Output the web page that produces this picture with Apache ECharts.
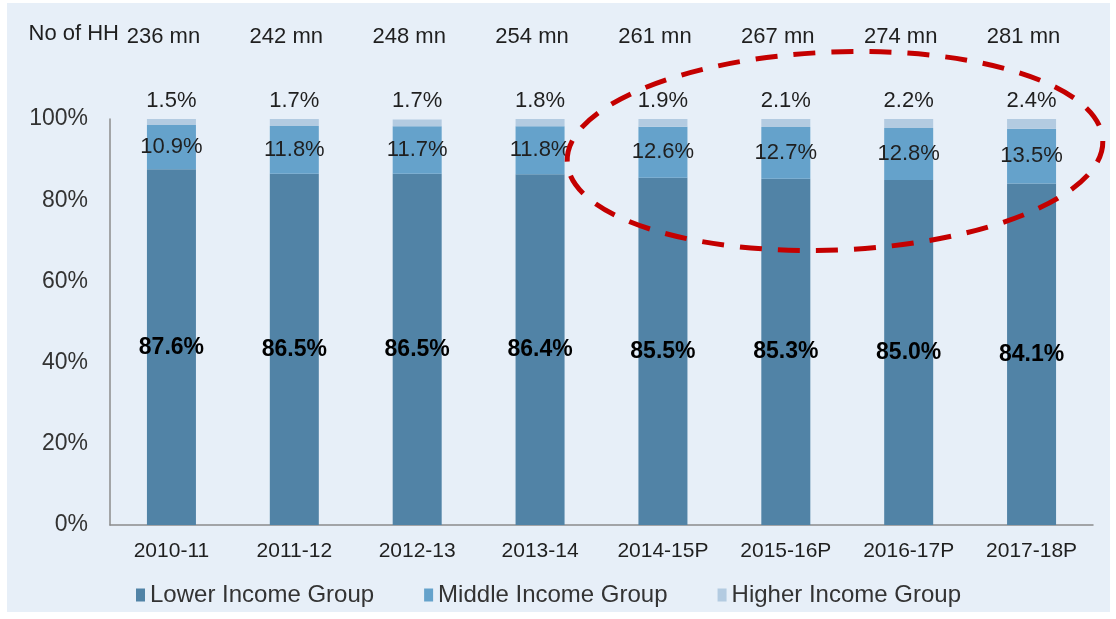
<!DOCTYPE html>
<html>
<head>
<meta charset="utf-8">
<script src="https://cdn.jsdelivr.net/npm/echarts@6/dist/echarts.min.js"></script>
<style>
  html, body { margin: 0; padding: 0; background: #fff; }
  #chart { width: 1116px; height: 619px; }
</style>
</head>
<body>
<div id="chart"></div>
<script>
// share of households by income group
const years = ['2010-11', '2011-12', '2012-13', '2013-14', '2014-15P', '2015-16P', '2016-17P', '2017-18P']
const households = ['236 mn', '242 mn', '248 mn', '254 mn', '261 mn', '267 mn', '274 mn', '281 mn']
const lowerIncome = [87.6, 86.5, 86.5, 86.4, 85.5, 85.3, 85.0, 84.1]
const middleIncome = [10.9, 11.8, 11.7, 11.8, 12.6, 12.7, 12.8, 13.5]
const higherIncome = [1.5, 1.7, 1.7, 1.8, 1.9, 2.1, 2.2, 2.4]

const font = 'Liberation Sans, Arial, sans-serif'
const textColor = '#1f1f1f'

const chart = echarts.init(document.getElementById('chart'))

const pct = p => p.value.toFixed(1) + '%'

chart.setOption({
  animation: false,
  backgroundColor: '#fff',
  textStyle: { fontFamily: font },
  grid: { left: 110, right: 23, top: 119, bottom: 94 },
  xAxis: [
    {
      type: 'category',
      data: years,
      axisLine: { lineStyle: { color: '#8c8c8c', width: 1.5 } },
      axisTick: { show: false },
      axisLabel: { interval: 0, color: textColor, fontSize: 21, margin: 16 }
    },
    {
      type: 'category',
      position: 'top',
      data: households,
      axisLine: { show: false },
      axisTick: { show: false },
      axisLabel: { interval: 0, color: textColor, fontSize: 22, margin: 71, padding: [0, 16, 0, 0] }
    }
  ],
  yAxis: {
    type: 'value',
    min: 0,
    max: 100,
    interval: 20,
    axisLine: { show: true, lineStyle: { color: '#8c8c8c', width: 1.5 } },
    axisTick: { show: false },
    splitLine: { show: false },
    axisLabel: { color: '#333', fontSize: 23, margin: 22, formatter: '{value}%' }
  },
  legend: {
    left: 131,
    top: 578,
    icon: 'rect',
    itemWidth: 9,
    itemHeight: 13,
    itemGap: 50,
    textStyle: { color: '#333', fontSize: 24, fontFamily: font },
    data: ['Lower Income Group', 'Middle Income Group', 'Higher Income Group']
  },
  series: [
    {
      name: 'Lower Income Group',
      type: 'bar',
      stack: 'hh',
      barWidth: 49,
      data: lowerIncome,
      itemStyle: { color: '#5183a6' },
      label: { show: true, position: 'inside', color: '#000', fontSize: 23, fontWeight: 'bold', formatter: pct }
    },
    {
      name: 'Middle Income Group',
      type: 'bar',
      stack: 'hh',
      data: middleIncome,
      itemStyle: { color: '#65a2cb' },
      label: { show: true, position: 'inside', color: textColor, fontSize: 22, formatter: pct }
    },
    {
      name: 'Higher Income Group',
      type: 'bar',
      stack: 'hh',
      data: higherIncome,
      itemStyle: { color: '#b3cbe1' },
      label: { show: true, position: 'top', distance: 7, color: textColor, fontSize: 22, formatter: pct }
    }
  ],
  graphic: [
    {
      type: 'rect',
      z: -10,
      silent: true,
      shape: { x: 7, y: 3, width: 1103, height: 609 },
      style: { fill: '#e7eff8' }
    },
    {
      type: 'text',
      right: 1116 - 119,
      top: 23,
      style: { text: 'No of HH', fill: textColor, font: '22px ' + font }
    },
    {
      type: 'ellipse',
      z: 100,
      silent: true,
      x: 835,
      y: 151,
      rotation: 0.04,
      shape: { cx: 0, cy: 0, rx: 268, ry: 99 },
      style: { fill: 'none', stroke: '#c40000', lineWidth: 5, lineDash: [22, 16] }
    }
  ]
})
</script>
</body>
</html>
